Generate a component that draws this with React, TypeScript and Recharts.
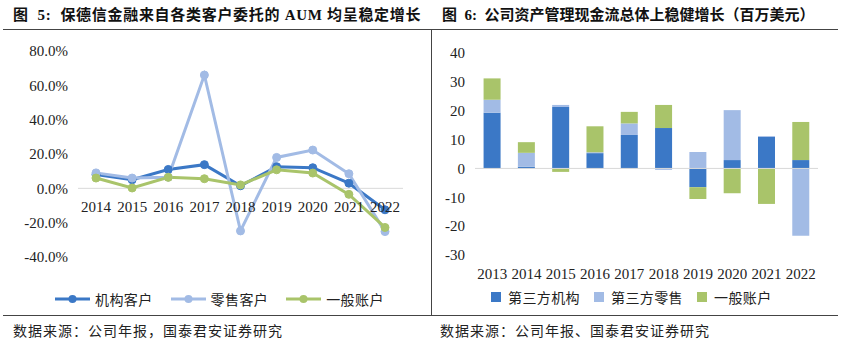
import React from 'react';
import { LineChart, Line, XAxis, YAxis, ReferenceLine, Legend, BarChart, Bar } from 'recharts';

// ---------- Figure 5 data (AUM growth by client type, %) ----------
const years5 = ['2014', '2015', '2016', '2017', '2018', '2019', '2020', '2021', '2022'];
const institutional = [8.0, 5.0, 11.0, 13.8, 1.5, 12.6, 12.0, 3.0, -12.5];
const retail = [9.0, 6.0, 6.5, 66.0, -24.8, 18.0, 22.3, 8.5, -25.2];
const generalAccount = [6.0, 0.2, 6.4, 5.6, 2.0, 10.8, 8.9, -3.5, -22.8];
const ticks5 = [-40, -20, 0, 20, 40, 60, 80];
const names5 = ['机构客户', '零售客户', '一般账户'];

// ---------- Figure 6 data (asset management net flows, USD mn) ----------
const years6 = ['2013', '2014', '2015', '2016', '2017', '2018', '2019', '2020', '2021', '2022'];
const thirdPartyInst = [19.3, 0.6, 21.3, 5.3, 11.6, 14.0, -6.5, 2.9, 10.9, 2.9];
const thirdPartyRetail = [4.5, 4.8, 0.7, 0.3, 4.0, -0.5, 5.7, 17.3, 0.3, -23.3];
const generalAcct6 = [7.4, 3.7, -1.2, 9.0, 4.0, 8.0, -4.1, -8.6, -12.3, 13.2];
const ticks6 = [-30, -20, -10, 0, 10, 20, 30, 40];
const names6 = ['第三方机构', '第三方零售', '一般账户'];

const C_DARK = '#3B78C6';
const C_LIGHT = '#A2BBE5';
const C_GREEN = '#A9C46A';

const data5 = years5.map((y, i) => ({ year: y, a: institutional[i], b: retail[i], c: generalAccount[i] }));
const data6 = years6.map((y, i) => ({ year: y, a: thirdPartyInst[i], b: thirdPartyRetail[i], c: generalAcct6[i] }));

const LATIN = "'Liberation Serif', 'Times New Roman', serif";
const CJK = "'Noto Sans CJK SC', 'Noto Sans', sans-serif";
const MIX = "'Liberation Serif', 'Noto Sans CJK SC', serif";

// layout constants
const L_TOP = 51;
const L_BOTTOM = 257;
const L_PLOT_H = L_BOTTOM - L_TOP;
const L_MIN = -40;
const L_MAX = 80;
const L_ZERO_SHIFT = (L_PLOT_H * (0 - L_MIN)) / (L_MAX - L_MIN);

const LeftTick = (props: any) => {
  const { x, y, payload } = props;
  return (
    <text x={x} y={y - L_ZERO_SHIFT + 24} textAnchor="middle" fontFamily={LATIN} fontSize={15} fill="#222">
      {payload.value}
    </text>
  );
};

const RightTick = (props: any) => {
  const { x, y, payload } = props;
  return (
    <text x={x} y={y + 24} textAnchor="middle" fontFamily={LATIN} fontSize={15} fill="#222">
      {payload.value}
    </text>
  );
};

const LineLegend = () => {
  const colors = [C_DARK, C_LIGHT, C_GREEN];
  return (
    <div style={{ display: 'flex', alignItems: 'center', paddingLeft: 55, height: 20 }}>
      {names5.map((n, i) => (
        <div key={n} style={{ display: 'flex', alignItems: 'center', marginRight: 18 }}>
          <svg width={35} height={12}>
            <line x1={0} y1={6} x2={35} y2={6} stroke={colors[i]} strokeWidth={3} />
            <circle cx={17.5} cy={6} r={4} fill={colors[i]} />
          </svg>
          <span style={{ fontFamily: CJK, fontSize: 14, color: '#222', marginLeft: 5, letterSpacing: 0.4, lineHeight: '20px' }}>{n}</span>
        </div>
      ))}
    </div>
  );
};

const BarLegend = () => {
  const colors = [C_DARK, C_LIGHT, C_GREEN];
  return (
    <div style={{ display: 'flex', alignItems: 'center', paddingLeft: 60, height: 20 }}>
      {names6.map((n, i) => (
        <div key={n} style={{ display: 'flex', alignItems: 'center', marginRight: 14 }}>
          <span style={{ width: 10, height: 10, background: colors[i], display: 'inline-block' }} />
          <span style={{ fontFamily: CJK, fontSize: 14, color: '#222', marginLeft: 7, letterSpacing: 0.4, lineHeight: '20px' }}>{n}</span>
        </div>
      ))}
    </div>
  );
};

export default function App() {
  return (
    <div style={{ position: 'absolute', left: 0, top: 0, width: 841, height: 342, background: '#fff', overflow: 'hidden' }}>
      {/* titles */}
      <div style={{ position: 'absolute', left: 13, top: 5, fontFamily: MIX, fontWeight: 'bold', fontSize: 15, color: '#111', whiteSpace: 'nowrap', letterSpacing: 0.7, lineHeight: '20px' }}>
        图&nbsp; 5:&nbsp; 保德信金融来自各类客户委托的 AUM 均呈稳定增长
      </div>
      <div style={{ position: 'absolute', left: 442, top: 5, fontFamily: MIX, fontWeight: 'bold', fontSize: 15, color: '#111', whiteSpace: 'nowrap', lineHeight: '20px' }}>
        图&nbsp; 6:&nbsp; 公司资产管理现金流总体上稳健增长（百万美元）
      </div>
      {/* header / footer rules */}
      <div style={{ position: 'absolute', left: 3, top: 29, width: 835, height: 1, background: '#444' }} />
      <div style={{ position: 'absolute', left: 3, top: 315, width: 835, height: 1, background: '#444' }} />
      <div style={{ position: 'absolute', left: 431, top: 29, width: 1, height: 287, background: '#444' }} />

      {/* Figure 5 */}
      <div style={{ position: 'absolute', left: 0, top: 0 }}>
        <LineChart width={420} height={315} data={data5} margin={{ top: L_TOP, right: 17, left: 0, bottom: 315 - L_BOTTOM - 20 }}>
          <YAxis
            width={78}
            domain={[L_MIN, L_MAX]}
            ticks={ticks5}
            axisLine={false}
            tickLine={false}
            tickSize={0}
            tickMargin={10}
            tickFormatter={(v: number) => `${v.toFixed(1)}%`}
            tick={{ fontFamily: LATIN, fontSize: 15, fill: '#222' }}
          />
          <XAxis dataKey="year" height={20} padding={{ left: 18, right: 18 }} axisLine={false} tickLine={false} tickSize={0} tickMargin={0} interval={0} tick={<LeftTick />} />
          <ReferenceLine y={0} stroke="#D9D9D9" strokeWidth={1} />
          <Line dataKey="a" name={names5[0]} stroke={C_DARK} strokeWidth={3} dot={{ r: 4, fill: C_DARK, stroke: C_DARK, strokeWidth: 1 }} isAnimationActive={false} />
          <Line dataKey="b" name={names5[1]} stroke={C_LIGHT} strokeWidth={3} dot={{ r: 4, fill: C_LIGHT, stroke: C_LIGHT, strokeWidth: 1 }} isAnimationActive={false} />
          <Line dataKey="c" name={names5[2]} stroke={C_GREEN} strokeWidth={3} dot={{ r: 4, fill: C_GREEN, stroke: C_GREEN, strokeWidth: 1 }} isAnimationActive={false} />
          <Legend layout="horizontal" verticalAlign="middle" align="center" wrapperStyle={{ top: 289, left: 0, width: 420 }} content={<LineLegend />} />
        </LineChart>
      </div>

      {/* Figure 6 */}
      <div style={{ position: 'absolute', left: 431, top: 0 }}>
        <BarChart width={410} height={315} data={data6} stackOffset="sign" barCategoryGap="25%" margin={{ top: 53, right: 23, left: 0, bottom: 315 - 255 - 20 }}>
          <YAxis
            width={44}
            domain={[-30, 40]}
            ticks={ticks6}
            axisLine={false}
            tickLine={false}
            tickSize={0}
            tickMargin={10}
            tick={{ fontFamily: LATIN, fontSize: 15, fill: '#222' }}
          />
          <XAxis dataKey="year" height={20} axisLine={false} tickLine={false} tickSize={0} tickMargin={0} interval={0} tick={<RightTick />} />
          <Bar dataKey="a" name={names6[0]} stackId="s" fill={C_DARK} isAnimationActive={false} />
          <Bar dataKey="b" name={names6[1]} stackId="s" fill={C_LIGHT} isAnimationActive={false} />
          <Bar dataKey="c" name={names6[2]} stackId="s" fill={C_GREEN} isAnimationActive={false} />
          <ReferenceLine y={0} stroke="#D9D9D9" strokeWidth={1} />
          <Legend layout="horizontal" verticalAlign="middle" align="center" wrapperStyle={{ top: 287, left: 0, width: 410 }} content={<BarLegend />} />
        </BarChart>
      </div>

      {/* sources */}
      <div style={{ position: 'absolute', left: 13, top: 320, fontFamily: CJK, fontSize: 14, letterSpacing: 1, color: '#222', whiteSpace: 'nowrap', lineHeight: '20px' }}>
        数据来源：公司年报，国泰君安证券研究
      </div>
      <div style={{ position: 'absolute', left: 440, top: 320, fontFamily: CJK, fontSize: 14, letterSpacing: 1, color: '#222', whiteSpace: 'nowrap', lineHeight: '20px' }}>
        数据来源：公司年报、国泰君安证券研究
      </div>
    </div>
  );
}
